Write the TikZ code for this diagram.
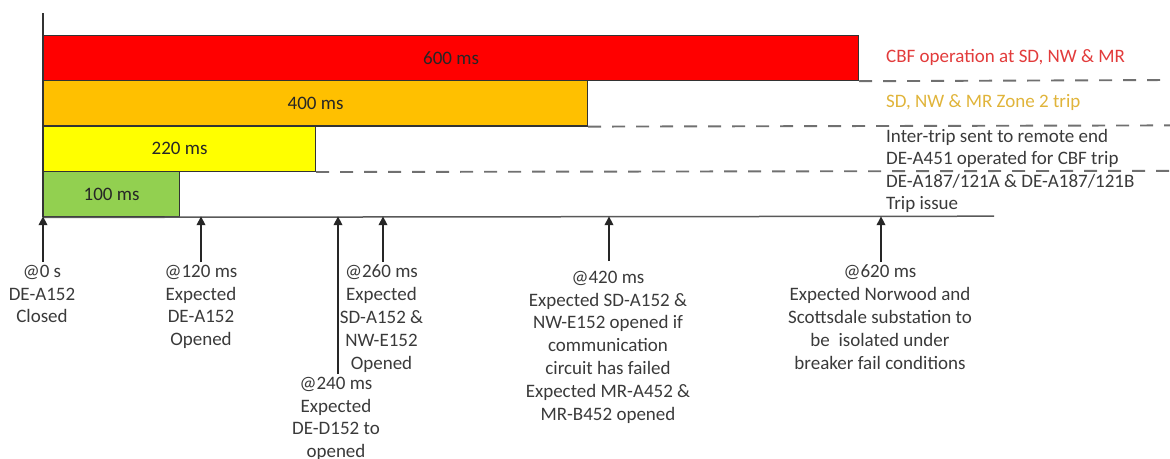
\documentclass[tikz,border=0pt]{standalone}
\usepackage{fontspec}
\setmainfont{Carlito}
\usetikzlibrary{arrows.meta}
\definecolor{barred}{HTML}{FF0000}
\definecolor{barorange}{HTML}{FFC000}
\definecolor{baryellow}{HTML}{FFFF00}
\definecolor{bargreen}{HTML}{92D050}
\definecolor{lblred}{HTML}{E23B3B}
\definecolor{lblgold}{HTML}{E0B43A}
\definecolor{txt}{HTML}{3A3A3A}
\definecolor{dashgray}{HTML}{707070}
\begin{document}
\begin{tikzpicture}[x=1pt,y=-1pt,
  every node/.style={font=\fontsize{19}{22.8}\selectfont, text=txt, inner sep=0pt},
  bar/.style={draw=black!80, line width=1.2pt, anchor=north west, minimum height=45.4pt, text=black!85},
  dashln/.style={draw=dashgray, line width=1.9pt, dash pattern=on 13pt off 11pt},
  arr/.style={draw=black!85, line width=1.8pt, -{Triangle[length=9pt,width=8.5pt]}},
  lbl/.style={align=center, anchor=north, outer sep=3pt},
  side/.style={anchor=west, align=left},
  axisln/.style={draw=black!80, line width=1.6pt},
  baseln/.style={draw=black!65, line width=1.5pt}]
\useasboundingbox (0,0) rectangle (1170,458);

% bars
\node[bar, fill=barred, minimum width=815pt] (b600) at (43,34.6) {600 ms};
\node[bar, fill=barorange, minimum width=544pt] (b400) at (43,80) {400 ms};
\node[bar, fill=baryellow, minimum width=272pt] (b220) at (43,125.4) {220 ms};
\node[bar, fill=bargreen, minimum width=136pt] (b100) at (43,170.8) {100 ms};

% axis and base line
\coordinate (axtop) at (43,13);
\coordinate (bend) at (994,216.2);
\draw[baseln] (b100.south west) -- (bend);
\draw[axisln] (axtop) -- (b100.south west);

% dashed continuation lines
\coordinate (d1) at (1170,80);
\coordinate (d2) at (1170,125.4);
\coordinate (d3) at (1170,170.8);
\draw[dashln] (b600.south east) -- (d1);
\draw[dashln] (b400.south east) -- (d2);
\draw[dashln] (b220.south east) -- (d3);

% side labels
\node[side, text=lblred] (s1) at (886,57.5) {CBF operation at SD, NW \& MR};
\node[side, text=lblgold] (s2) at (886,102.5) {SD, NW \& MR Zone 2 trip};
\node[side] (s3) at (886,148.5) {Inter-trip sent to remote end\\DE-A451 operated for CBF trip};
\node[side] (s4) at (886,193.5) {DE-A187/121A \& DE-A187/121B\\Trip issue};

% tick targets on the base line
\coordinate (t0) at (43,216.2);
\coordinate (t120) at (201,216.2);
\coordinate (t240) at (338,216.2);
\coordinate (t260) at (383,216.2);
\coordinate (t420) at (609,216.2);
\coordinate (t620) at (881,216.2);

% bottom labels
\node[lbl] (l0) at (42,262) {@0 s\\DE-A152\\Closed};
\node[lbl] (l120) at (201,262) {@120 ms\\Expected\\DE-A152\\Opened};
\node[lbl] (l240) at (336,374) {@240 ms\\Expected\\DE-D152 to\\opened};
\node[lbl] (l260) at (381.5,262) {@260 ms\\Expected\\SD-A152 \&\\NW-E152\\Opened};
\node[lbl, outer sep=10pt] (l420) at (608,261) {@420 ms\\Expected SD-A152 \&\\NW-E152 opened if\\communication\\circuit has failed\\Expected MR-A452 \&\\MR-B452 opened};
\node[lbl] (l620) at (880,262) {@620 ms\\Expected Norwood and\\Scottsdale substation to\\be\ \ isolated under\\breaker fail conditions};

% arrows
\draw[arr] (t0 |- l0.north) -- (t0);
\draw[arr] (t120 |- l120.north) -- (t120);
\draw[arr] (t240 |- l240.north) -- (t240);
\draw[arr] (t260 |- l260.north) -- (t260);
\draw[arr] (t420 |- l420.north) -- (t420);
\draw[arr] (t620 |- l620.north) -- (t620);
\end{tikzpicture}
\end{document}
